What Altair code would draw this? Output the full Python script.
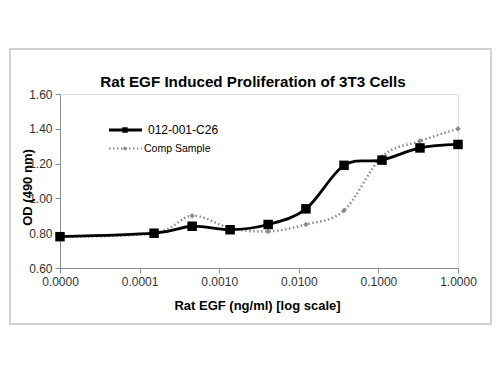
import altair as alt
import pandas as pd

# EGF concentration (ng/ml); the zero-dose well is plotted at 1e-5 on the log axis
conc = [0.00001, 0.000152, 0.000457, 0.00137, 0.00412, 0.0123, 0.037, 0.111, 0.333, 1.0]
c26 = [0.78, 0.80, 0.84, 0.82, 0.85, 0.94, 1.19, 1.22, 1.29, 1.31]
comp = [0.78, 0.80, 0.90, 0.83, 0.81, 0.85, 0.93, 1.24, 1.33, 1.40]
series_names = ["012-001-C26", "Comp Sample"]
x_ticks = [0.00001, 0.0001, 0.001, 0.01, 0.1, 1.0]
y_ticks = [0.6, 0.8, 1.0, 1.2, 1.4, 1.6]

df_a = pd.DataFrame({"conc": conc, "od": c26})
df_b = pd.DataFrame({"conc": conc, "od": comp})

FONT = "Liberation Sans"

xs = alt.Scale(type="log", domain=[0.00001, 1.0], nice=False)
ys = alt.Scale(domain=[0.6, 1.6], nice=False, zero=False)

x_axis = alt.Axis(values=x_ticks, format=".4f", title="Rat EGF (ng/ml) [log scale]",
                  grid=False, domainColor="#8c8c8c", tickColor="#8c8c8c",
                  tickSize=5, labelPadding=3, labelFontSize=12, labelColor="#333333",
                  labelFont=FONT, titleFont=FONT, titleFontSize=13, titleFontWeight="bold",
                  titleX=197, titleY=37, titleBaseline="middle", labelFlush=False,
                  labelOverlap=False)
y_axis = alt.Axis(values=y_ticks, format=".2f", title="OD (490 nm)",
                  grid=False, domainColor="#8c8c8c", tickColor="#8c8c8c",
                  tickSize=5, labelPadding=3, labelFontSize=12, labelColor="#333333",
                  labelFont=FONT, titleFont=FONT, titleFontSize=13, titleFontWeight="bold",
                  titleX=-33, titleY=93, titleBaseline="middle", titleAngle=-90,
                  labelOverlap=False, labelFlush=False)


def xe():
    return alt.X("conc:Q", scale=xs, axis=x_axis)


def ye():
    return alt.Y("od:Q", scale=ys, axis=y_axis)


frame = alt.Chart(alt.Data(values=[{"a": 1}])).mark_rect(
    fill="transparent", stroke="#c4c4c4", strokeWidth=1.5
).encode(x=alt.value(-50), x2=alt.value(431), y=alt.value(-45), y2=alt.value(230))

line_b = alt.Chart(df_b).mark_line(
    color="#8a8a8a", strokeWidth=2.5, strokeDash=[1.5, 2.5], interpolate="cardinal"
).encode(x=xe(), y=ye())
pts_b = alt.Chart(df_b).mark_point(
    shape="diamond", filled=True, color="#8a8a8a", size=30, opacity=1
).encode(x=xe(), y=ye())

line_a = alt.Chart(df_a).mark_line(
    color="#000000", strokeWidth=2.8, interpolate="cardinal"
).encode(x=xe(), y=ye())
pts_a = alt.Chart(df_a).mark_point(
    shape="square", filled=True, color="#000000", size=90, opacity=1
).encode(x=xe(), y=ye())

# manual legend
leg = pd.DataFrame({"name": series_names})
leg_a = alt.Chart(leg).transform_filter(alt.datum.name == series_names[0])
leg_b = alt.Chart(leg).transform_filter(alt.datum.name == series_names[1])
leg_layers = [
    leg_a.mark_rule(color="#000000", strokeWidth=2.8).encode(x=alt.value(49), x2=alt.value(82), y=alt.value(36)),
    leg_a.mark_point(shape="square", filled=True, color="#000000", size=30, opacity=1).encode(x=alt.value(65), y=alt.value(36)),
    leg_a.mark_text(align="left", baseline="middle", fontSize=12, font=FONT, color="#000000").encode(
        x=alt.value(88), y=alt.value(36), text="name:N"),
    leg_b.mark_rule(color="#8a8a8a", strokeWidth=2, strokeDash=[1.5, 2.5]).encode(x=alt.value(49), x2=alt.value(82), y=alt.value(54.5)),
    leg_b.mark_point(shape="diamond", filled=True, color="#8a8a8a", size=20, opacity=1).encode(x=alt.value(65), y=alt.value(54.5)),
    leg_b.mark_text(align="left", baseline="middle", fontSize=10.5, font=FONT, color="#000000").encode(
        x=alt.value(84), y=alt.value(54.5), text="name:N"),
]

chart = alt.layer(frame, line_b, pts_b, line_a, pts_a, *leg_layers).properties(
    width=398, height=174,
    title=alt.TitleParams("Rat EGF Induced Proliferation of 3T3 Cells", font=FONT, fontSize=15.2,
                          fontWeight="bold", anchor="middle", offset=8, dy=50, dx=-6, color="#000000",
                          frame="group"),
    autosize=alt.AutoSizeParams(type="none"),
    padding={"left": 60, "top": 94, "right": 42, "bottom": 107},
).configure_view(stroke=None).configure_axis(labelOverlap=False).configure(background="white")

chart.save("out.html", embed_options={"renderer": "svg", "actions": False})
